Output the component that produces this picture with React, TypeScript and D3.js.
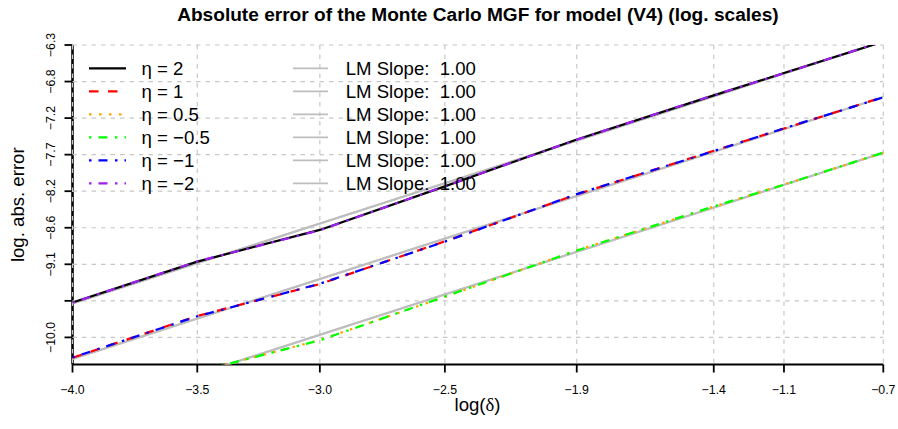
import React from "react";
import * as d3 from "d3";

// ---- data ----
const etaLabels = ["2", "1", "0.5", "−0.5", "−1", "−2"];
const seriesColors = ["#000000", "#FF0000", "#FFA500", "#00FF00", "#0000FF", "#A020F0"];
const logDelta = [-4.007, -3.497, -2.996, -2.485, -1.946, -1.386, -1.099, -0.693];
const errEta2 = [-9.559, -9.041, -8.64, -8.089, -7.495, -6.938, -6.655, -6.257];
const errEta1 = [-10.257, -9.729, -9.325, -8.785, -8.19, -7.639, -7.357, -6.959];
const errEta05 = [-10.963, -10.439, -10.033, -9.487, -8.898, -8.346, -8.065, -7.665];
const errEtaM05 = [-10.96, -10.436, -10.037, -9.483, -8.901, -8.343, -8.068, -7.662];
const errEtaM1 = [-10.254, -9.733, -9.321, -8.788, -8.187, -7.642, -7.354, -6.962];
const errEtaM2 = [-9.562, -9.038, -8.644, -8.086, -7.498, -6.935, -6.658, -6.254];
const lmIntercepts = [-5.564, -6.266, -6.972, -6.97, -6.264, -5.562];
const lmSlopes = [1.0, 1.0, 1.0, 1.0, 1.0, 1.0];
const xTickValues = [-4.007, -3.497, -2.996, -2.485, -1.946, -1.386, -1.099, -0.693];
const xTickLabels = ["−4.0", "−3.5", "−3.0", "−2.5", "−1.9", "−1.4", "−1.1", "−0.7"];
const yTickValues = [-10.0, -9.5375, -9.075, -8.6125, -8.15, -7.6875, -7.225, -6.7625, -6.3];
const yTickLabels = ["−10.0", "", "−9.1", "−8.6", "−8.2", "−7.7", "−7.2", "−6.8", "−6.3"];
const xDomain = [-4.007, -0.693];
const yDomain = [-10.343, -6.3];

const allSeries = [errEta2, errEta1, errEta05, errEtaM05, errEtaM1, errEtaM2];

export default function App() {
  const W = 898, H = 429;
  const left = 72.5, right = 883.3, top = 45, bottom = 364.5;
  const x = d3.scaleLinear().domain(xDomain).range([left, right]);
  const y = d3.scaleLinear().domain(yDomain).range([bottom, top]);
  const font = "'Liberation Sans', Arial, Helvetica, sans-serif";
  const dashes = ["", "9.5 9.5", "2.5 7.5", "2.5 7 9 7.5", "2.5 7 9 7.5", "2.5 7 9 7.5"];
  const line = d3
    .line<[number, number]>()
    .x((d) => x(d[0]))
    .y((d) => y(d[1]));
  const gridCol = "#c8c8c8";
  const lmCol = "#bebebe";
  const legY0 = 68.3, legDy = 23;

  return (
    <svg width={W} height={H} style={{ position: "absolute", left: 0, top: 0, background: "#fff" }}>
      <defs>
        <clipPath id="plotclip">
          <rect x={left} y={top} width={right - left} height={bottom - top} />
        </clipPath>
      </defs>
      <rect x={0} y={0} width={W} height={H} fill="#fff" />
      {/* title */}
      <text x={(left + right) / 2} y={20.7} textAnchor="middle" fontFamily={font} fontWeight="bold" fontSize={19.1}>
        Absolute error of the Monte Carlo MGF for model (V4) (log. scales)
      </text>

      {/* axes lines */}
      <line x1={left} x2={right} y1={bottom} y2={bottom} stroke="#000" strokeWidth={2} />
      <line x1={left} x2={left} y1={top} y2={bottom} stroke="#000" strokeWidth={2.6} />
      {xTickValues.map((v, i) => (
        <g key={"xt" + i}>
          <line x1={x(v)} x2={x(v)} y1={bottom} y2={bottom + 8} stroke="#000" strokeWidth={1.8} />
          <text x={x(v)} y={393.5} textAnchor="middle" fontFamily={font} fontSize={12.3}>
            {xTickLabels[i]}
          </text>
        </g>
      ))}
      {yTickValues.map((v, i) => (
        <g key={"yt" + i}>
          <line x1={left - 8} x2={left} y1={y(v)} y2={y(v)} stroke="#000" strokeWidth={1.8} />
          {yTickLabels[i] && (
            <text
              transform={`translate(55,${y(v)}) rotate(-90)`}
              textAnchor="middle"
              fontFamily={font}
              fontSize={12.3}
            >
              {yTickLabels[i]}
            </text>
          )}
        </g>
      ))}

      {/* grid */}
      {xTickValues.map((v, i) => (
        <line key={"gx" + i} x1={x(v)} x2={x(v)} y1={top} y2={bottom} stroke={gridCol} strokeWidth={1.2} strokeDasharray="4.5 5" />
      ))}
      {yTickValues.map((v, i) => (
        <line key={"gy" + i} x1={left} x2={right} y1={y(v)} y2={y(v)} stroke={gridCol} strokeWidth={1.2} strokeDasharray="4.5 5" />
      ))}

      {/* axis labels */}
      <text x={477.5} y={410.7} textAnchor="middle" fontFamily={font} fontSize={18.6}>
        log(<tspan fontFamily="'Liberation Serif', 'DejaVu Serif', serif">δ</tspan>)
      </text>
      <text transform={`translate(23.5,${(top + bottom) / 2}) rotate(-90)`} textAnchor="middle" fontFamily={font} fontSize={18.6}>
        log. abs. error
      </text>

      {/* data */}
      <g clipPath="url(#plotclip)">
        {lmIntercepts.map((c, i) => (
          <line
            key={"lm" + i}
            x1={x(xDomain[0])}
            x2={x(xDomain[1])}
            y1={y(c + lmSlopes[i] * xDomain[0])}
            y2={y(c + lmSlopes[i] * xDomain[1])}
            stroke={lmCol}
            strokeWidth={2}
          />
        ))}
        {allSeries.map((s, i) => (
          <path
            key={"s" + i}
            d={line(logDelta.map((xv, j) => [xv, s[j]] as [number, number])) || ""}
            fill="none"
            stroke={seriesColors[i]}
            strokeWidth={2.2}
            strokeDasharray={dashes[i] || undefined}
          />
        ))}
      </g>

      {/* legends */}
      {etaLabels.map((lab, i) => (
        <g key={"leg" + i}>
          <line
            x1={89}
            x2={126}
            y1={legY0 + i * legDy}
            y2={legY0 + i * legDy}
            stroke={seriesColors[i]}
            strokeWidth={2.3}
            strokeDasharray={dashes[i] || undefined}
          />
          <text x={141.5} y={legY0 + i * legDy + 6.2} fontFamily={font} fontSize={18.6}>
            {"η = " + lab}
          </text>
        </g>
      ))}
      {lmSlopes.map((s, i) => (
        <g key={"lml" + i}>
          <line x1={293} x2={328} y1={legY0 + i * legDy} y2={legY0 + i * legDy} stroke={lmCol} strokeWidth={1.8} />
          <text x={345.7} y={legY0 + i * legDy + 6.2} fontFamily={font} fontSize={18.6} style={{ whiteSpace: "pre" }}>
            {"LM Slope:  " + s.toFixed(2)}
          </text>
        </g>
      ))}
    </svg>
  );
}
